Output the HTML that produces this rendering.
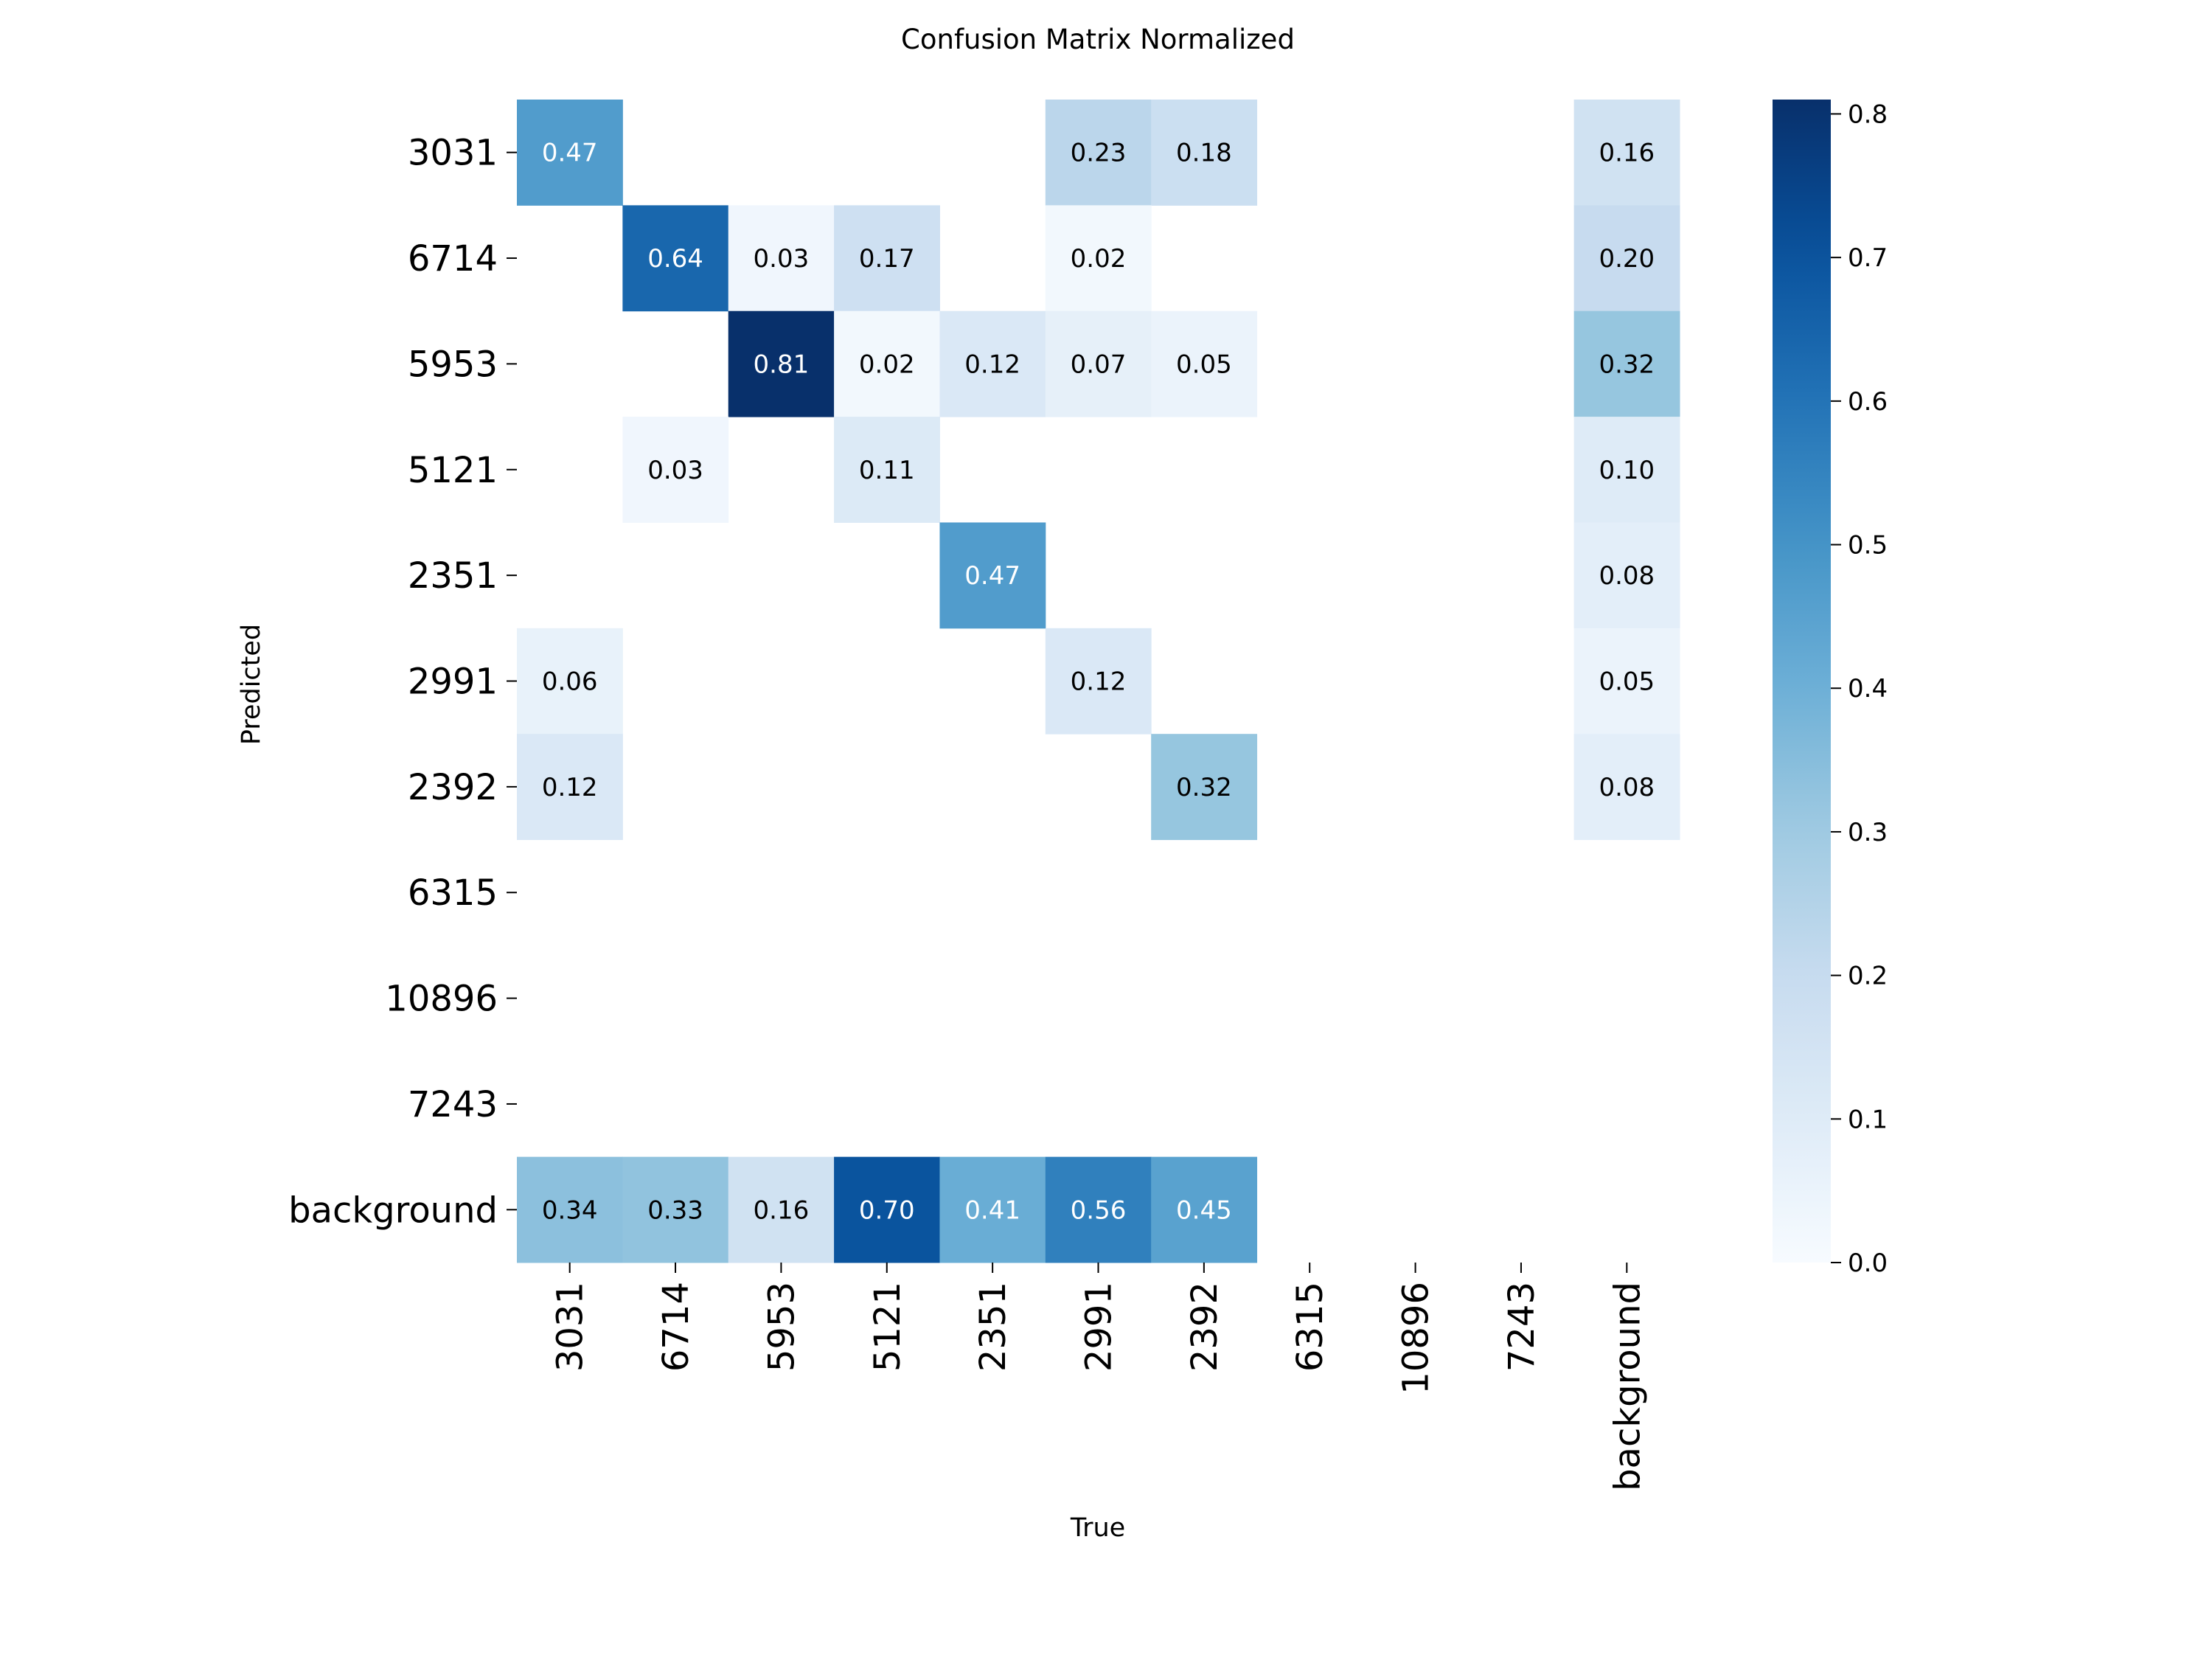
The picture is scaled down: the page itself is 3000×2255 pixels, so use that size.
<!DOCTYPE html>
<html><head><meta charset="utf-8"><style>
html,body{margin:0;padding:0;background:#fff}
svg text{font-family:"DejaVu Sans","Liberation Sans",sans-serif}
</style></head><body>
<svg id="chart" width="3000" height="2250" viewBox="0 0 3000 2250" xmlns="http://www.w3.org/2000/svg">
<rect width="3000" height="2250" fill="#fff"/>
<text x="1489" y="66" font-size="37" text-anchor="middle">Confusion Matrix Normalized</text>
<text x="1489" y="2083" font-size="35" text-anchor="middle">True</text>
<text x="352" y="928" font-size="35" text-anchor="middle" transform="rotate(-90 352 928)">Predicted</text>
<g id="cells"></g><g id="xt"></g><g id="yt"></g>
<defs><linearGradient id="cbg" x1="0" y1="1" x2="0" y2="0"></linearGradient></defs>
<rect x="2404" y="135" width="79" height="1577" fill="url(#cbg)"/>
<g id="ct"></g>
</svg>
<script>
const categories=["3031","6714","5953","5121","2351","2991","2392","6315","10896","7243","background"];
const row3031=[0.47,0,0,0,0,0.23,0.18,0,0,0,0.16];
const row6714=[0,0.64,0.03,0.17,0,0.02,0,0,0,0,0.20];
const row5953=[0,0,0.81,0.02,0.12,0.07,0.05,0,0,0,0.32];
const row5121=[0,0.03,0,0.11,0,0,0,0,0,0,0.10];
const row2351=[0,0,0,0,0.47,0,0,0,0,0,0.08];
const row2991=[0.06,0,0,0,0,0.12,0,0,0,0,0.05];
const row2392=[0.12,0,0,0,0,0,0.32,0,0,0,0.08];
const row6315=[0,0,0,0,0,0,0,0,0,0,0];
const row10896=[0,0,0,0,0,0,0,0,0,0,0];
const row7243=[0,0,0,0,0,0,0,0,0,0,0];
const rowBackground=[0.34,0.33,0.16,0.70,0.41,0.56,0.45,0,0,0,0];
const colorbarTicks=[0.0,0.1,0.2,0.3,0.4,0.5,0.6,0.7,0.8];
const vmax=0.81;
const matrix=[row3031,row6714,row5953,row5121,row2351,row2991,row2392,row6315,row10896,row7243,rowBackground];
const NS="http://www.w3.org/2000/svg";
const L=701,T=135,W=1577,H=1577,n=categories.length,cw=W/n,ch=H/n;
const xs=i=>L+i*cw, ys=i=>T+i*ch;
const cy=v=>T+H-(v/vmax)*H;
const stops=["#f7fbff","#deebf7","#c6dbef","#9ecae1","#6baed6","#4292c6","#2171b5","#08519c","#08306b"];
function hx(c){return [1,3,5].map(i=>parseInt(c.substr(i,2),16));}
function blues(t){t=Math.max(0,Math.min(1,t));const p=t*8,i=Math.min(7,Math.floor(p)),f=p-i;const a=hx(stops[i]),b=hx(stops[i+1]);return "rgb("+a.map((v,k)=>Math.round(v+(b[k]-v)*f)).join(",")+")";}
function mk(tag,attrs,parent){const e=document.createElementNS(NS,tag);for(const k in attrs)e.setAttribute(k,attrs[k]);parent.appendChild(e);return e;}
const cells=document.getElementById('cells');
matrix.forEach((row,r)=>row.forEach((v,c)=>{
  if(v<0.005)return;
  const rc=mk('rect',{x:xs(c),y:ys(r),width:cw+0.5,height:ch+0.5,fill:blues(v/vmax)},cells);
  
  
  const t=mk('text',{x:xs(c)+cw/2,y:ys(r)+ch/2+12,'font-size':34,'text-anchor':'middle',fill:v>0.38?'#fff':'#000'},cells);
  
  
  t.textContent=v.toFixed(2);
}));
const xt=document.getElementById('xt'),yt=document.getElementById('yt');
categories.forEach((c,i)=>{
  const x=xs(i)+cw/2;
  mk('line',{x1:x,x2:x,y1:T+H,y2:T+H+14,stroke:'#000','stroke-width':2},xt);
  const t=mk('text',{x:x+17,y:T+H+26,'font-size':48,'text-anchor':'end',transform:`rotate(-90 ${x+17} ${T+H+26})`},xt);
  
  
  t.textContent=c;
  const y=ys(i)+ch/2;
  mk('line',{x1:L-14,x2:L,y1:y,y2:y,stroke:'#000','stroke-width':2},yt);
  const u=mk('text',{x:L-26,y:y+17,'font-size':48,'text-anchor':'end'},yt);
  
  
  u.textContent=c;
});
const g=document.getElementById('cbg');
for(let k=0;k<=20;k++){mk('stop',{offset:(k/20),'stop-color':blues(k/20)},g);}
const ct=document.getElementById('ct');
colorbarTicks.forEach(v=>{
  const y=cy(v);
  mk('line',{x1:2483,x2:2497,y1:y,y2:y,stroke:'#000','stroke-width':2},ct);
  const t=mk('text',{x:2506,y:y+12,'font-size':34},ct);
  
  
  t.textContent=v.toFixed(1);
});
</script>
</body></html>
